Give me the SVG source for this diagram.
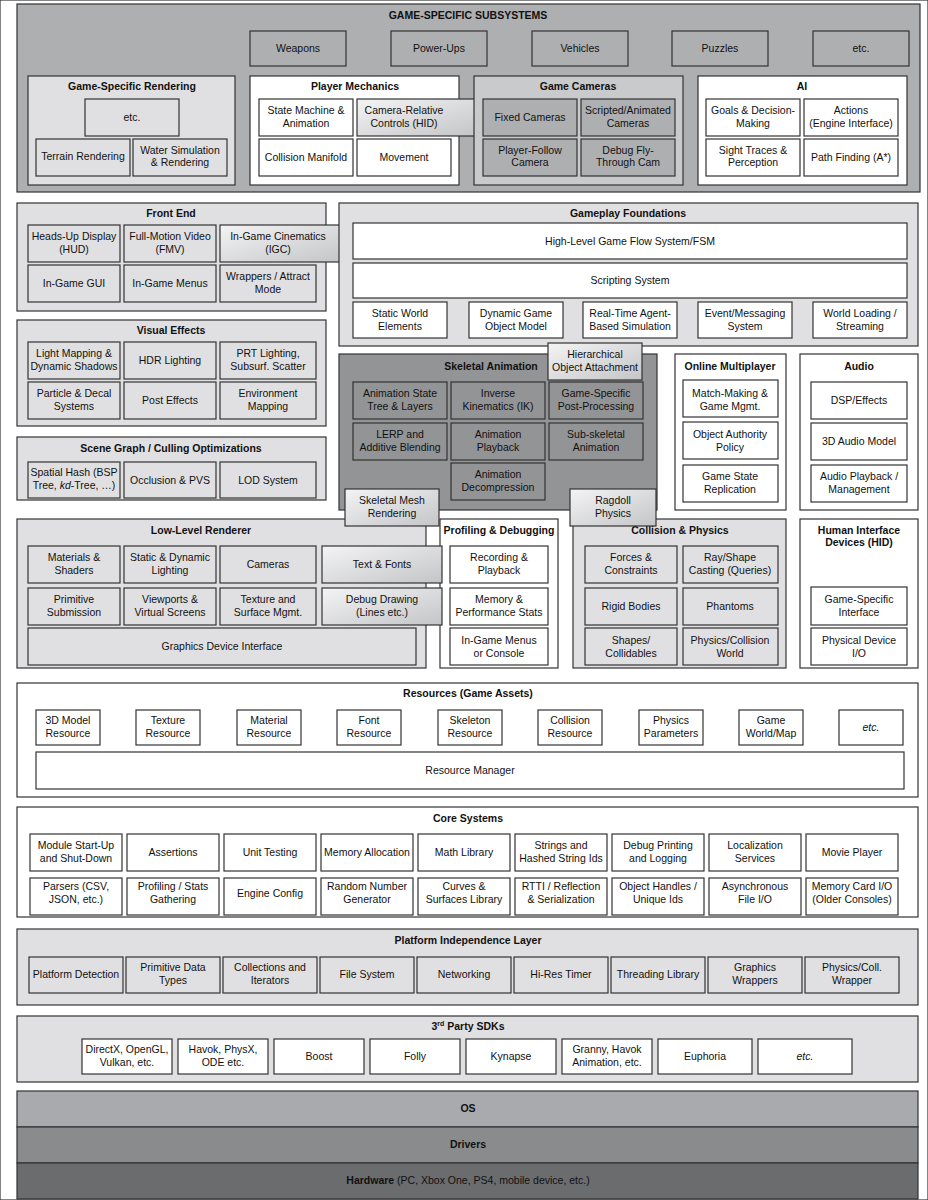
<svg xmlns="http://www.w3.org/2000/svg" width="928" height="1200" viewBox="0 0 928 1200">
<defs>
<linearGradient id="g" x1="0" y1="0" x2="1" y2="1"><stop offset="0" stop-color="#f4f4f5"/><stop offset="1" stop-color="#c4c5c7"/></linearGradient>
</defs>
<style>
rect{stroke:#333;stroke-width:1.2}
.w{fill:#fff}.l{fill:#e0e0e2}.m{fill:#aeafb1}.c{fill:#c9cacc}.d{fill:#939496}.gr{fill:url(#g)}
text{font-family:"Liberation Sans",Arial,sans-serif;font-size:10.5px;fill:#111;text-anchor:middle}
.t{font-weight:bold;font-size:10.5px}
</style>
<rect fill="#fff" stroke="none" x="0" y="0" width="928" height="1200"/>
<g id="game-specific"><rect class="m" x="17" y="4" width="903" height="188"/><text class="t" x="468" y="19">GAME-SPECIFIC SUBSYSTEMS</text>
<rect class="m" x="250" y="31" width="96" height="35"/><text x="298" y="52">Weapons</text>
<rect class="m" x="391" y="31" width="96" height="35"/><text x="439" y="52">Power-Ups</text>
<rect class="m" x="532" y="31" width="96" height="35"/><text x="580" y="52">Vehicles</text>
<rect class="m" x="672" y="31" width="96" height="35"/><text x="720" y="52">Puzzles</text>
<rect class="m" x="813" y="31" width="96" height="35"/><text x="861" y="52">etc.</text>
</g>
<g id="gs-rendering"><rect class="l" x="28" y="76" width="207" height="109"/><text class="t" x="132" y="90">Game-Specific Rendering</text>
<rect class="l" x="85" y="99" width="94" height="37"/><text x="132" y="121">etc.</text>
<rect class="l" x="36" y="139" width="94" height="37"/><text x="83" y="160">Terrain Rendering</text>
<rect class="l" x="133" y="139" width="94" height="37"/><text x="180" y="154">Water Simulation</text><text x="180" y="166">&amp; Rendering</text></g>
<g id="player-mechanics"><rect class="w" x="250" y="76" width="209" height="109"/><text class="t" x="355" y="90">Player Mechanics</text>
<rect class="w" x="259" y="99" width="94" height="37"/><text x="306" y="114">State Machine &amp;</text><text x="306" y="127">Animation</text>
<rect class="w" x="259" y="139" width="94" height="37"/><text x="306" y="161">Collision Manifold</text>
<rect class="w" x="357" y="139" width="94" height="37"/><text x="404" y="161">Movement</text>
<rect class="gr" x="357" y="99" width="120" height="37"/><text x="404" y="114">Camera-Relative</text><text x="404" y="127">Controls (HID)</text></g>
<g id="game-cameras"><rect class="c" x="474" y="76" width="209" height="109"/><text class="t" x="578" y="90">Game Cameras</text>
<rect class="m" x="483" y="99" width="94" height="37"/><text x="530" y="121">Fixed Cameras</text>
<rect class="m" x="581" y="99" width="94" height="37"/><text x="628" y="114">Scripted/Animated</text><text x="628" y="127">Cameras</text>
<rect class="m" x="483" y="139" width="94" height="37"/><text x="530" y="154">Player-Follow</text><text x="530" y="166">Camera</text>
<rect class="m" x="581" y="139" width="94" height="37"/><text x="628" y="154">Debug Fly-</text><text x="628" y="166">Through Cam</text></g>
<g id="ai"><rect class="w" x="698" y="76" width="209" height="109"/><text class="t" x="802" y="90">AI</text>
<rect class="w" x="706" y="99" width="94" height="37"/><text x="753" y="114">Goals &amp; Decision-</text><text x="753" y="127">Making</text>
<rect class="w" x="804" y="99" width="94" height="37"/><text x="851" y="114">Actions</text><text x="851" y="127">(Engine Interface)</text>
<rect class="w" x="706" y="139" width="94" height="37"/><text x="753" y="154">Sight Traces &amp;</text><text x="753" y="166">Perception</text>
<rect class="w" x="804" y="139" width="94" height="37"/><text x="851" y="161">Path Finding (A*)</text></g>

<g id="front-end"><rect class="l" x="17" y="203" width="309" height="108"/><text class="t" x="171" y="217">Front End</text>
<rect class="l" x="28" y="225" width="92" height="37"/><text x="74" y="240">Heads-Up Display</text><text x="74" y="253">(HUD)</text>
<rect class="l" x="124" y="225" width="92" height="37"/><text x="170" y="240">Full-Motion Video</text><text x="170" y="253">(FMV)</text>
<rect class="l" x="28" y="265" width="92" height="37"/><text x="74" y="287">In-Game GUI</text>
<rect class="l" x="124" y="265" width="92" height="37"/><text x="170" y="287">In-Game Menus</text>
<rect class="l" x="220" y="265" width="96" height="37"/><text x="268" y="280">Wrappers / Attract</text><text x="268" y="293">Mode</text>
<rect class="gr" x="220" y="225" width="122" height="37"/><text x="278" y="240">In-Game Cinematics</text><text x="278" y="253">(IGC)</text></g>
<g id="gameplay-foundations"><rect class="l" x="339" y="203" width="579" height="143"/><text class="t" x="628" y="217">Gameplay Foundations</text>
<rect class="w" x="353" y="223" width="554" height="36"/><text x="630" y="245">High-Level Game Flow System/FSM</text>
<rect class="w" x="353" y="263" width="554" height="35"/><text x="630" y="284">Scripting System</text>
<rect class="w" x="353" y="302" width="94" height="36"/><text x="400" y="317">Static World</text><text x="400" y="330">Elements</text>
<rect class="w" x="469" y="302" width="94" height="36"/><text x="516" y="317">Dynamic Game</text><text x="516" y="330">Object Model</text>
<rect class="w" x="583" y="302" width="94" height="36"/><text x="630" y="317">Real-Time Agent-</text><text x="630" y="330">Based Simulation</text>
<rect class="w" x="698" y="302" width="94" height="36"/><text x="745" y="317">Event/Messaging</text><text x="745" y="330">System</text>
<rect class="w" x="813" y="302" width="94" height="36"/><text x="860" y="317">World Loading /</text><text x="860" y="330">Streaming</text></g>
<g id="visual-effects"><rect class="l" x="17" y="320" width="309" height="106"/><text class="t" x="171" y="334">Visual Effects</text>
<rect class="l" x="28" y="342" width="92" height="37"/><text x="74" y="357">Light Mapping &amp;</text><text x="74" y="370">Dynamic Shadows</text>
<rect class="l" x="124" y="342" width="92" height="37"/><text x="170" y="364">HDR Lighting</text>
<rect class="l" x="220" y="342" width="96" height="37"/><text x="268" y="357">PRT Lighting,</text><text x="268" y="370">Subsurf. Scatter</text>
<rect class="l" x="28" y="382" width="92" height="37"/><text x="74" y="397">Particle &amp; Decal</text><text x="74" y="410">Systems</text>
<rect class="l" x="124" y="382" width="92" height="37"/><text x="170" y="404">Post Effects</text>
<rect class="l" x="220" y="382" width="96" height="37"/><text x="268" y="397">Environment</text><text x="268" y="410">Mapping</text></g>
<g id="scene-graph"><rect class="l" x="17" y="437" width="309" height="63"/><text class="t" x="171" y="452">Scene Graph / Culling Optimizations</text>
<rect class="l" x="28" y="462" width="92" height="36"/><text x="74" y="476">Spatial Hash (BSP</text><text x="74" y="489">Tree, <tspan font-style="italic">kd</tspan>-Tree, …)</text>
<rect class="l" x="124" y="462" width="92" height="36"/><text x="170" y="484">Occlusion &amp; PVS</text>
<rect class="l" x="220" y="462" width="96" height="36"/><text x="268" y="484">LOD System</text></g>
<g id="skeletal-animation"><rect class="d" x="339" y="354" width="318" height="156"/><text class="t" x="491" y="370">Skeletal Animation</text>
<rect class="d" x="353" y="382" width="94" height="37"/><text x="400" y="397">Animation State</text><text x="400" y="410">Tree &amp; Layers</text>
<rect class="d" x="451" y="382" width="94" height="37"/><text x="498" y="397">Inverse</text><text x="498" y="410">Kinematics (IK)</text>
<rect class="d" x="549" y="382" width="94" height="37"/><text x="596" y="397">Game-Specific</text><text x="596" y="410">Post-Processing</text>
<rect class="d" x="353" y="423" width="94" height="37"/><text x="400" y="438">LERP and</text><text x="400" y="451">Additive Blending</text>
<rect class="d" x="451" y="423" width="94" height="37"/><text x="498" y="438">Animation</text><text x="498" y="451">Playback</text>
<rect class="d" x="549" y="423" width="94" height="37"/><text x="596" y="438">Sub-skeletal</text><text x="596" y="451">Animation</text>
<rect class="d" x="451" y="463" width="94" height="37"/><text x="498" y="478">Animation</text><text x="498" y="491">Decompression</text>
<rect class="gr" x="548" y="343" width="94" height="37"/><text x="595" y="358">Hierarchical</text><text x="595" y="371">Object Attachment</text></g>
<g id="online-multiplayer"><rect class="w" x="675" y="354" width="111" height="156"/><text class="t" x="730" y="370">Online Multiplayer</text>
<rect class="w" x="683" y="380" width="95" height="37"/><text x="730" y="397">Match-Making &amp;</text><text x="730" y="410">Game Mgmt.</text>
<rect class="w" x="683" y="422" width="95" height="37"/><text x="730" y="438">Object Authority</text><text x="730" y="451">Policy</text>
<rect class="w" x="683" y="465" width="95" height="37"/><text x="730" y="480">Game State</text><text x="730" y="493">Replication</text></g>
<g id="audio"><rect class="w" x="800" y="354" width="118" height="156"/><text class="t" x="859" y="370">Audio</text>
<rect class="w" x="811" y="382" width="96" height="37"/><text x="859" y="404">DSP/Effects</text>
<rect class="w" x="811" y="423" width="96" height="37"/><text x="859" y="445">3D Audio Model</text>
<rect class="w" x="811" y="465" width="96" height="37"/><text x="859" y="480">Audio Playback /</text><text x="859" y="493">Management</text></g>

<g id="low-level-renderer"><rect class="l" x="17" y="519" width="409" height="149"/><text class="t" x="201" y="534">Low-Level Renderer</text>
<rect class="l" x="28" y="546" width="92" height="37"/><text x="74" y="561">Materials &amp;</text><text x="74" y="574">Shaders</text>
<rect class="l" x="124" y="546" width="92" height="37"/><text x="170" y="561">Static &amp; Dynamic</text><text x="170" y="574">Lighting</text>
<rect class="l" x="220" y="546" width="96" height="37"/><text x="268" y="568">Cameras</text>
<rect class="l" x="28" y="588" width="92" height="37"/><text x="74" y="603">Primitive</text><text x="74" y="616">Submission</text>
<rect class="l" x="124" y="588" width="92" height="37"/><text x="170" y="603">Viewports &amp;</text><text x="170" y="616">Virtual Screens</text>
<rect class="l" x="220" y="588" width="96" height="37"/><text x="268" y="603">Texture and</text><text x="268" y="616">Surface Mgmt.</text>
<rect class="l" x="28" y="628" width="388" height="37"/><text x="222" y="650">Graphics Device Interface</text></g>
<g id="profiling"><rect class="w" x="440" y="519" width="118" height="149"/><text class="t" x="499" y="534">Profiling &amp; Debugging</text>
<rect class="w" x="450" y="546" width="98" height="37"/><text x="499" y="561">Recording &amp;</text><text x="499" y="574">Playback</text>
<rect class="w" x="450" y="588" width="98" height="37"/><text x="499" y="603">Memory &amp;</text><text x="499" y="616">Performance Stats</text>
<rect class="w" x="450" y="628" width="98" height="37"/><text x="499" y="644">In-Game Menus</text><text x="499" y="657">or Console</text></g>
<g id="collision"><rect class="l" x="573" y="519" width="213" height="149"/><text class="t" x="680" y="534">Collision &amp; Physics</text>
<rect class="l" x="585" y="546" width="92" height="37"/><text x="631" y="561">Forces &amp;</text><text x="631" y="574">Constraints</text>
<rect class="l" x="683" y="546" width="95" height="37"/><text x="730" y="561">Ray/Shape</text><text x="730" y="574">Casting (Queries)</text>
<rect class="l" x="585" y="588" width="92" height="37"/><text x="631" y="610">Rigid Bodies</text>
<rect class="l" x="683" y="588" width="95" height="37"/><text x="730" y="610">Phantoms</text>
<rect class="l" x="585" y="628" width="92" height="37"/><text x="631" y="644">Shapes/</text><text x="631" y="657">Collidables</text>
<rect class="l" x="683" y="628" width="95" height="37"/><text x="730" y="644">Physics/Collision</text><text x="730" y="657">World</text></g>
<g id="overlaps">
<rect class="gr" x="322" y="546" width="120" height="37"/><text x="382" y="568">Text &amp; Fonts</text>
<rect class="gr" x="322" y="588" width="120" height="37"/><text x="382" y="603">Debug Drawing</text><text x="382" y="616">(Lines etc.)</text>
<rect class="gr" x="345" y="489" width="94" height="37"/><text x="392" y="504">Skeletal Mesh</text><text x="392" y="517">Rendering</text>
<rect class="gr" x="570" y="489" width="86" height="37"/><text x="613" y="504">Ragdoll</text><text x="613" y="517">Physics</text></g>
<g id="hid"><rect class="w" x="800" y="519" width="118" height="149"/><text class="t" x="859" y="534">Human Interface</text><text class="t" x="859" y="546">Devices (HID)</text>
<rect class="w" x="811" y="587" width="96" height="38"/><text x="859" y="603">Game-Specific</text><text x="859" y="616">Interface</text>
<rect class="w" x="811" y="628" width="96" height="37"/><text x="859" y="644">Physical Device</text><text x="859" y="657">I/O</text></g>

<g id="resources"><rect class="w" x="17" y="683" width="901" height="114"/><text class="t" x="468" y="697">Resources (Game Assets)</text>
<rect class="w" x="36" y="710" width="64" height="35"/><text x="68" y="724">3D Model</text><text x="68" y="737">Resource</text>
<rect class="w" x="136" y="710" width="64" height="35"/><text x="168" y="724">Texture</text><text x="168" y="737">Resource</text>
<rect class="w" x="237" y="710" width="64" height="35"/><text x="269" y="724">Material</text><text x="269" y="737">Resource</text>
<rect class="w" x="337" y="710" width="64" height="35"/><text x="369" y="724">Font</text><text x="369" y="737">Resource</text>
<rect class="w" x="438" y="710" width="64" height="35"/><text x="470" y="724">Skeleton</text><text x="470" y="737">Resource</text>
<rect class="w" x="538" y="710" width="64" height="35"/><text x="570" y="724">Collision</text><text x="570" y="737">Resource</text>
<rect class="w" x="639" y="710" width="64" height="35"/><text x="671" y="724">Physics</text><text x="671" y="737">Parameters</text>
<rect class="w" x="739" y="710" width="64" height="35"/><text x="771" y="724">Game</text><text x="771" y="737">World/Map</text>
<rect class="w" x="839" y="710" width="64" height="35"/><text x="871" y="731" font-style="italic">etc.</text>
<rect class="w" x="36" y="752" width="868" height="37"/><text x="470" y="774">Resource Manager</text></g>

<g id="core"><rect class="w" x="17" y="807" width="901" height="110"/><text class="t" x="468" y="822">Core Systems</text>
<rect class="w" x="30" y="834" width="92" height="37"/><text x="76" y="849">Module Start-Up</text><text x="76" y="862">and Shut-Down</text>
<rect class="w" x="127" y="834" width="92" height="37"/><text x="173" y="856">Assertions</text>
<rect class="w" x="224" y="834" width="92" height="37"/><text x="270" y="856">Unit Testing</text>
<rect class="w" x="321" y="834" width="92" height="37"/><text x="367" y="856">Memory Allocation</text>
<rect class="w" x="418" y="834" width="92" height="37"/><text x="464" y="856">Math Library</text>
<rect class="w" x="515" y="834" width="92" height="37"/><text x="561" y="849">Strings and</text><text x="561" y="862">Hashed String Ids</text>
<rect class="w" x="612" y="834" width="92" height="37"/><text x="658" y="849">Debug Printing</text><text x="658" y="862">and Logging</text>
<rect class="w" x="709" y="834" width="92" height="37"/><text x="755" y="849">Localization</text><text x="755" y="862">Services</text>
<rect class="w" x="806" y="834" width="92" height="37"/><text x="852" y="856">Movie Player</text>
<rect class="w" x="30" y="878" width="92" height="37"/><text x="76" y="890">Parsers (CSV,</text><text x="76" y="903">JSON, etc.)</text>
<rect class="w" x="127" y="878" width="92" height="37"/><text x="173" y="890">Profiling / Stats</text><text x="173" y="903">Gathering</text>
<rect class="w" x="224" y="878" width="92" height="37"/><text x="270" y="897">Engine Config</text>
<rect class="w" x="321" y="878" width="92" height="37"/><text x="367" y="890">Random Number</text><text x="367" y="903">Generator</text>
<rect class="w" x="418" y="878" width="92" height="37"/><text x="464" y="890">Curves &amp;</text><text x="464" y="903">Surfaces Library</text>
<rect class="w" x="515" y="878" width="92" height="37"/><text x="561" y="890">RTTI / Reflection</text><text x="561" y="903">&amp; Serialization</text>
<rect class="w" x="612" y="878" width="92" height="37"/><text x="658" y="890">Object Handles /</text><text x="658" y="903">Unique Ids</text>
<rect class="w" x="709" y="878" width="92" height="37"/><text x="755" y="890">Asynchronous</text><text x="755" y="903">File I/O</text>
<rect class="w" x="806" y="878" width="92" height="37"/><text x="852" y="890">Memory Card I/O</text><text x="852" y="903">(Older Consoles)</text></g>

<g id="platform"><rect class="l" x="17" y="929" width="901" height="76"/><text class="t" x="468" y="944">Platform Independence Layer</text>
<rect class="l" x="29" y="957" width="94" height="36"/><text x="76" y="978">Platform Detection</text>
<rect class="l" x="126" y="957" width="94" height="36"/><text x="173" y="971">Primitive Data</text><text x="173" y="984">Types</text>
<rect class="l" x="223" y="957" width="94" height="36"/><text x="270" y="971">Collections and</text><text x="270" y="984">Iterators</text>
<rect class="l" x="320" y="957" width="94" height="36"/><text x="367" y="978">File System</text>
<rect class="l" x="417" y="957" width="94" height="36"/><text x="464" y="978">Networking</text>
<rect class="l" x="514" y="957" width="94" height="36"/><text x="561" y="978">Hi-Res Timer</text>
<rect class="l" x="611" y="957" width="94" height="36"/><text x="658" y="978">Threading Library</text>
<rect class="l" x="708" y="957" width="94" height="36"/><text x="755" y="971">Graphics</text><text x="755" y="984">Wrappers</text>
<rect class="l" x="805" y="957" width="94" height="36"/><text x="852" y="971">Physics/Coll.</text><text x="852" y="984">Wrapper</text></g>

<g id="sdks"><rect class="l" x="17" y="1016" width="901" height="66"/><text class="t" x="468" y="1030">3<tspan font-size="7" dy="-4">rd</tspan><tspan dy="4"> Party SDKs</tspan></text>
<rect class="w" x="82" y="1039" width="90" height="35"/><text x="127" y="1053">DirectX, OpenGL,</text><text x="127" y="1066">Vulkan, etc.</text>
<rect class="w" x="178" y="1039" width="90" height="35"/><text x="223" y="1053">Havok, PhysX,</text><text x="223" y="1066">ODE etc.</text>
<rect class="w" x="274" y="1039" width="90" height="35"/><text x="319" y="1060">Boost</text>
<rect class="w" x="370" y="1039" width="90" height="35"/><text x="415" y="1060">Folly</text>
<rect class="w" x="466" y="1039" width="90" height="35"/><text x="511" y="1060">Kynapse</text>
<rect class="w" x="562" y="1039" width="90" height="35"/><text x="607" y="1053">Granny, Havok</text><text x="607" y="1066">Animation, etc.</text>
<rect class="w" x="658" y="1039" width="94" height="35"/><text x="705" y="1060">Euphoria</text>
<rect class="w" x="758" y="1039" width="94" height="35"/><text x="805" y="1060" font-style="italic">etc.</text></g>

<g id="os"><rect fill="#a9aaad" x="17" y="1091" width="901" height="36"/><text class="t" x="468" y="1112">OS</text></g>
<g id="drivers"><rect fill="#8a8b8d" x="17" y="1127" width="901" height="36"/><text class="t" x="468" y="1148">Drivers</text></g>
<g id="hardware"><rect fill="#6b6c6e" x="17" y="1163" width="901" height="36"/><text x="468" y="1184"><tspan font-weight="bold">Hardware</tspan> (PC, Xbox One, PS4, mobile device, etc.)</text></g>
<g id="connectors"/>
</svg>
